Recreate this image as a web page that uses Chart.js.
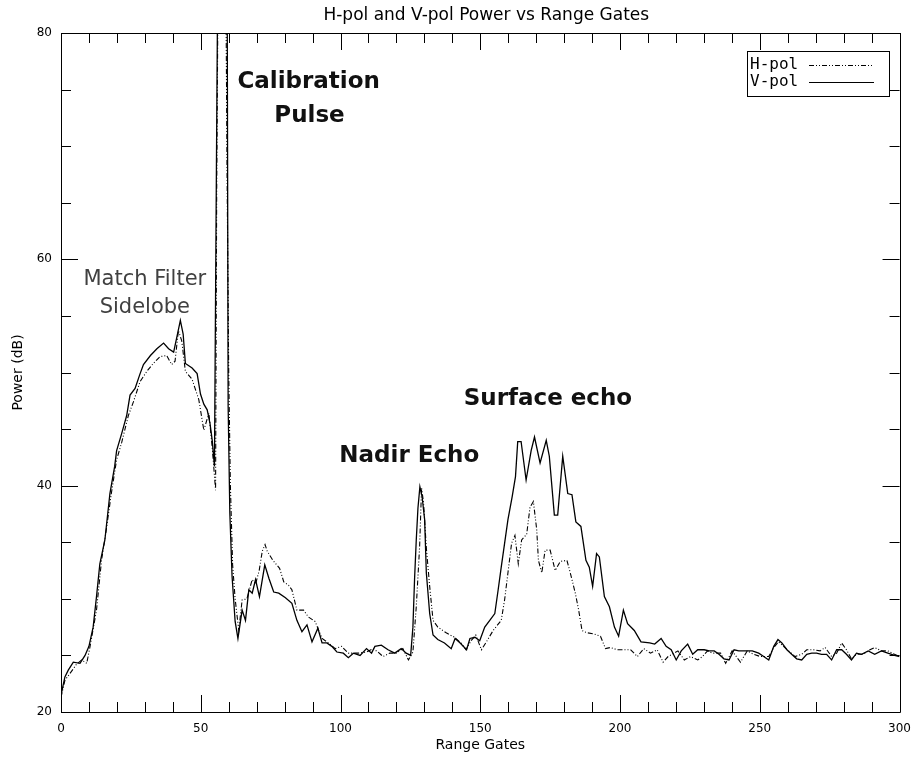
<!DOCTYPE html>
<html>
<head>
<meta charset="utf-8">
<script src="https://cdn.jsdelivr.net/npm/chart.js@4/dist/chart.umd.min.js"></script>
<style>
html,body{margin:0;padding:0;background:#fff;}
#wrap{width:921px;height:763px;}
</style>
</head>
<body>
<div id="wrap"><canvas id="c" width="921" height="763"></canvas></div>
<script>
// ---- Data ----
const TITLE = "H-pol and V-pol Power vs Range Gates";
const X_LABEL = "Range Gates";
const Y_LABEL = "Power (dB)";
const SERIES_NAMES = ["H-pol", "V-pol"];

const X_TICKS = [0, 50, 100, 150, 200, 250, 300];
const Y_TICKS = [20, 40, 60, 80];

const vGates = [0,1.4,2.6,4.4,6.8,8.6,10,11.5,12.7,13.9,15.7,17.5,19.2,19.9,21.7,23.5,24.7,26.5,28.3,29.5,32,34.3,36.7,38.5,40.3,41.5,42.7,43.7,44.5,46.9,48.7,49.9,51.1,52.3,53.3,54.1,54.9,55.6,56.5,58.5,59.3,59.8,60.4,61.2,62.3,63.3,
64.8,66,67.2,68.4,69.6,71,72.9,74.4,76.1,77.9,80.3,82.6,84.4,86.2,88,89.8,91.9,93.4,95.1,96.9,98.7,101,102.8,104.6,107,109.3,111.1,112.3,114.6,117,119.4,121.7,123.5,125.1,125.9,126.5,127.1,127.7,128.4,129.2,130.1,130.7,131.9,133.1,134.8,137.2,139.6,141,142.8,145.1,146.3,148.1,149.8,151.6,153.4,155.2,156.4,157.5,158.7,159.9,161.4,162.6,163.4,164.6,166.4,168.2,169.4,171.4,173.6,174.7,176.5,177.7,179.5,181.3,182.8,184.2,186,187.8,189,190.2,191.6,192.6,194.4,196.2,198,199.5,201.2,202.7,205.1,207.5,210.6,212.4,214.7,216.5,218.3,220.1,221.9,224.2,226,227.8,230.1,231.9,233.7,235.4,237.2,239,240.8,242.5,244.9,247.3,249.6,251.4,253.2,255,256.5,257.9,259.7,261.4,263.2,265,266.8,268.6,270.3,272.1,273.9,275.7,277.5,279.3,281,282.8,284.6,286.4,288.8,291.1,293.5,295.8,298.2,300];
const vPower = [21.5,23.1,23.7,24.4,24.3,25.0,25.8,27.5,30.2,33.1,35.2,39.3,41.7,43.1,44.6,46.2,48.0,48.6,49.9,50.7,51.5,52.1,52.6,52.1,51.8,53.2,54.6,53.4,50.8,50.4,49.9,48.1,47.2,46.7,45.5,44.0,41.7,68,100,100,100,47,37.6,32,28,26.5,
29.0,28.1,30.8,30.5,31.7,30.2,33.0,31.8,30.6,30.5,30.1,29.6,28.1,27.1,27.7,26.2,27.4,26.1,26.1,25.8,25.3,25.2,24.8,25.2,25.0,25.6,25.2,25.8,25.9,25.5,25.2,25.6,25.2,25.0,27.5,31.8,35.2,38.0,39.9,39.0,37.0,32.3,28.7,26.8,26.4,26.1,25.6,26.5,26.1,25.5,26.5,26.6,26.3,27.5,28.1,28.7,30.8,32.8,34.9,37.0,39.0,40.8,43.9,43.9,40.5,43.1,44.3,42.0,44.0,42.6,37.4,37.4,42.6,39.3,39.2,36.8,36.4,33.4,32.8,31.1,34.0,33.7,30.2,29.3,27.5,26.7,29.0,27.8,27.2,26.2,26.1,26.0,26.5,25.8,25.5,24.6,25.4,26.0,25.1,25.5,25.5,25.4,25.4,25.1,24.7,24.6,25.5,25.4,25.4,25.4,25.2,24.9,24.6,25.8,26.4,26.1,25.5,25.1,24.7,24.6,25.1,25.2,25.2,25.1,25.1,24.6,25.5,25.5,25.1,24.6,25.2,25.1,25.4,25.1,25.4,25.2,25.0,24.9];

const hGates = [0,1.4,3.2,5.5,7.4,9.2,10.4,12.7,14.5,16.2,18,19.9,21.7,24.1,25.9,28.3,30.7,33,35.4,37.8,39.6,40.8,42,43.2,44.5,46.9,49.3,51.1,52.9,54.1,55.3,55.7,56.6,58.6,59.4,60,60.6,61.4,62.3,63.6,
64.8,66.5,68.4,69.6,70.9,72,73,73.8,75.8,78.2,79.7,81.4,82.6,84.4,86.8,88.5,90.9,93.4,95.7,98.1,100.4,102.8,106.3,109.3,111.6,113.4,115.2,117.6,119.9,122.3,124.3,125.9,127.1,128.3,129,129.7,130.7,131.9,133.1,134.8,137.8,140.8,143.1,144.9,146.7,148.4,150.4,152.2,154.6,157.5,158.7,159.9,161.2,162.4,163.6,164.8,166.6,167.8,169,170.2,170.8,172,173.2,175,176.8,178.6,181,182.2,184,185.2,186.4,188.2,190.6,193,194.8,196.6,199,201.4,203.8,206.2,208.5,210.9,213.3,215.4,217.2,220.7,223,225.2,227.8,229.5,231.3,233,236,237.8,240.1,243.1,245.5,247.8,250.2,253.2,255,256.7,258.5,260.3,262.6,265,266.8,269.2,271.6,273.4,275.7,277.5,279.3,281,282.8,284.6,287,289.4,291.1,293.5,295.8,298.2,300];
const hPower = [21.3,22.8,23.4,24.2,24.6,24.3,25.8,29.0,33.4,36.1,39.3,42.3,43.8,46.2,47.4,49.2,50.1,50.8,51.4,51.5,50.7,51.0,53.7,52.8,50.1,49.4,47.6,44.9,46.4,43.4,39.6,66,100,100,68,50,40,33,30,27.2,
29.9,30.0,31.7,31.3,32.5,34.2,34.8,34.2,33.4,32.7,31.5,31.2,30.8,29.0,29.0,28.4,28.0,26.5,26.1,25.6,25.8,25.2,25.2,25.3,25.6,25.3,24.9,25.2,25.2,25.6,24.6,25.3,29.3,34.6,39.8,38.5,34.5,31.1,28.1,27.5,27.0,26.6,26.1,25.5,26.3,26.8,25.5,26.2,27.2,28.1,29.9,32.3,34.9,35.6,33.1,35.2,35.7,38.1,38.6,36.1,33.4,32.3,34.3,34.3,32.5,33.3,33.4,32.3,30.5,29.0,27.2,27.0,26.9,26.7,25.6,25.7,25.5,25.5,25.5,24.9,25.6,25.2,25.5,24.4,24.9,25.4,24.6,24.9,24.6,24.9,25.4,25.2,25.2,24.3,25.4,24.4,25.4,25.1,24.9,24.9,25.7,26.2,25.8,25.4,24.9,25.1,25.5,25.5,25.4,25.7,24.9,25.2,26.1,25.5,24.7,25.1,25.1,25.5,25.7,25.4,25.4,25.1,24.9];

// annotation text anchored at (gate, power) of its baseline centre
const ANNOTATIONS = [
  {text:"Calibration", gate:88.6, power:75.1, bold:true},
  {text:"Pulse", gate:88.9, power:72.1, bold:true},
  {text:"Match Filter", gate:30.0, power:57.7, bold:false},
  {text:"Sidelobe", gate:30.0, power:55.25, bold:false},
  {text:"Nadir Echo", gate:124.6, power:42.1, bold:true},
  {text:"Surface echo", gate:174.2, power:47.1, bold:true}
];

const toPts = (xs, ys) => xs.map((v, i) => ({x: v, y: ys[i]}));
const H_DASH = [5, 2, 1, 2, 1, 2];
const FONT = '"DejaVu Sans", sans-serif';

// ---- plugins ----
const titlePlugin = {
  id: 'topTitle',
  afterDraw(chart) {
    const {ctx, chartArea: a} = chart;
    ctx.save();
    ctx.font = '17px ' + FONT;
    ctx.fillStyle = '#000';
    ctx.textAlign = 'center';
    ctx.textBaseline = 'middle';
    ctx.fillText(TITLE, (a.left + a.right) / 2 + 6, a.top - 17);
    ctx.restore();
  }
};

const framePlugin = {
  id: 'frame',
  afterDatasetsDraw(chart) {
    const {ctx, chartArea: a, scales: {x, y}} = chart;
    ctx.save();
    ctx.strokeStyle = '#000';
    ctx.lineWidth = 1;
    ctx.beginPath();
    ctx.rect(Math.round(a.left) + 0.5, Math.round(a.top) + 0.5, Math.round(a.right - a.left), Math.round(a.bottom - a.top));
    ctx.stroke();
    ctx.beginPath();
    for (let v = 0; v <= 300; v += 10) {
      const px = Math.round(x.getPixelForValue(v)) + 0.5;
      const len = (v % 50 === 0) ? 17 : 10;
      ctx.moveTo(px, a.bottom); ctx.lineTo(px, a.bottom - len);
      ctx.moveTo(px, a.top); ctx.lineTo(px, a.top + len);
    }
    for (let v = 20; v <= 80; v += 5) {
      const py = Math.round(y.getPixelForValue(v)) + 0.5;
      const len = (v % 20 === 0) ? 17 : 10;
      ctx.moveTo(a.left, py); ctx.lineTo(a.left + len, py);
      ctx.moveTo(a.right, py); ctx.lineTo(a.right - len, py);
    }
    ctx.stroke();
    ctx.restore();
  }
};

const annotPlugin = {
  id: 'annot',
  afterDatasetsDraw(chart) {
    const {ctx, scales: {x, y}} = chart;
    ctx.save();
    ctx.textAlign = 'center';
    ctx.textBaseline = 'alphabetic';
    ANNOTATIONS.forEach(an => {
      if (an.bold) {
        ctx.font = 'bold 23px ' + FONT;
        ctx.fillStyle = '#111';
      } else {
        ctx.font = '21px ' + FONT;
        ctx.fillStyle = '#404040';
      }
      ctx.fillText(an.text, x.getPixelForValue(an.gate), y.getPixelForValue(an.power));
    });
    ctx.restore();
  }
};

const legendPlugin = {
  id: 'boxLegend',
  afterDraw(chart) {
    const {ctx, chartArea: a} = chart;
    const bx = Math.round(a.right) - 153, by = Math.round(a.top) + 18, bw = 142, bh = 45;
    ctx.save();
    ctx.fillStyle = '#fff';
    ctx.fillRect(bx, by, bw, bh);
    ctx.strokeStyle = '#000';
    ctx.lineWidth = 1;
    ctx.strokeRect(bx + 0.5, by + 0.5, bw, bh);
    ctx.font = '16px "DejaVu Sans Mono", monospace';
    ctx.fillStyle = '#000';
    ctx.textBaseline = 'middle';
    ctx.textAlign = 'left';
    const rows = [by + 14, by + 31];
    chart.data.datasets.forEach((ds, i) => {
      ctx.fillText(ds.label, bx + 3, rows[i]);
      ctx.beginPath();
      ctx.setLineDash(ds.borderDash || []);
      ctx.lineWidth = 1.2;
      ctx.moveTo(bx + 62, rows[i] + 0.5);
      ctx.lineTo(bx + 127, rows[i] + 0.5);
      ctx.stroke();
    });
    ctx.restore();
  }
};

new Chart(document.getElementById('c'), {
  type: 'line',
  data: {
    datasets: [
      {label: SERIES_NAMES[0], data: toPts(hGates, hPower), borderColor: '#000', borderWidth: 1.1, borderDash: H_DASH, pointRadius: 0, tension: 0, fill: false},
      {label: SERIES_NAMES[1], data: toPts(vGates, vPower), borderColor: '#000', borderWidth: 1.3, pointRadius: 0, tension: 0, fill: false}
    ]
  },
  options: {
    responsive: false,
    devicePixelRatio: 1,
    animation: false,
    events: [],
    layout: {padding: {left: 0, right: 17, top: 33, bottom: 0}},
    plugins: {
      legend: {display: false},
      tooltip: {enabled: false},
      title: {display: false}
    },
    scales: {
      x: {
        type: 'linear', min: 0, max: 300,
        afterFit(s) { s.height = 51; },
        afterBuildTicks(s) { s.ticks = X_TICKS.map(v => ({value: v})); },
        grid: {display: false, drawTicks: false},
        border: {display: false},
        ticks: {color: '#000', padding: 10, maxRotation: 0, font: {family: FONT, size: 12}},
        title: {display: true, text: X_LABEL, color: '#000', font: {family: FONT, size: 14}, padding: {top: 0, bottom: 9.5}}
      },
      y: {
        type: 'linear', min: 20, max: 80,
        afterFit(s) { s.width = 61; },
        afterBuildTicks(s) { s.ticks = Y_TICKS.map(v => ({value: v})); },
        grid: {display: false, drawTicks: false},
        border: {display: false},
        ticks: {color: '#000', padding: 9, font: {family: FONT, size: 12}},
        title: {display: true, text: Y_LABEL, color: '#000', font: {family: FONT, size: 14}, padding: {top: 9.5, bottom: 0}}
      }
    }
  },
  plugins: [framePlugin, annotPlugin, legendPlugin, titlePlugin]
});
</script>
</body>
</html>
